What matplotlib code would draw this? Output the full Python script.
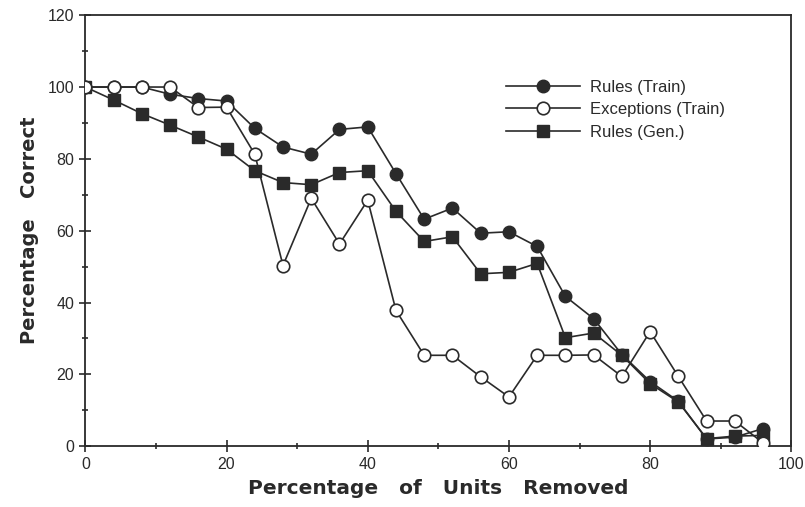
import numpy as np
import matplotlib.pyplot as plt

plt.rcParams['font.family'] = ['Liberation Sans', 'DejaVu Sans']

# percentage of units removed
removed = [0, 4, 8, 12, 16, 20, 24, 28, 32, 36, 40, 44, 48,
           52, 56, 60, 64, 68, 72, 76, 80, 84, 88, 92, 96]

rules_train = [100, 100, 100, 98, 96.8, 96.1, 88.5, 83.3, 81.3, 88.2, 88.9, 75.9, 63.2,
               66.3, 59.3, 59.7, 55.6, 41.7, 35.5, 25.5, 18.0, 12.5, 2.0, 2.5, 4.9]
exceptions_train = [100, 100, 100, 100, 94.3, 94.4, 81.3, 50.3, 69.0, 56.3, 68.5, 37.8, 25.3,
                    25.3, 19.3, 13.7, 25.3, 25.3, 25.4, 19.4, 31.9, 19.4, 7.0, 7.0, 0.9]
rules_gen = [100, 96.4, 92.6, 89.4, 86.1, 82.7, 76.7, 73.4, 72.8, 76.2, 76.7, 65.4, 57.0,
             58.3, 48.0, 48.4, 50.9, 30.2, 31.5, 25.3, 17.4, 12.3, 2.1, 2.8, 3.0]

ink = '#2a2a2a'

fig = plt.figure(figsize=(8.05, 5.07), dpi=100)
ax = fig.add_axes([0.106, 0.120, 0.877, 0.850])

ax.plot(removed, rules_train, color=ink, lw=1.2, marker='o', ms=9,
        mfc=ink, mec=ink, label='Rules (Train)', zorder=3)
ax.plot(removed, exceptions_train, color=ink, lw=1.2, marker='o', ms=9,
        mfc='white', mec=ink, mew=1.2, label='Exceptions (Train)', zorder=4)
ax.plot(removed, rules_gen, color=ink, lw=1.2, marker='s', ms=8.5,
        mfc=ink, mec=ink, label='Rules (Gen.)', zorder=3)

ax.set_xlim(0, 100)
ax.set_ylim(0, 120)
ax.set_xticks(np.arange(0, 101, 20))
ax.set_xticks(np.arange(0, 101, 10), minor=True)
ax.set_yticks(np.arange(0, 121, 20))
ax.set_yticks(np.arange(0, 121, 10), minor=True)
ax.tick_params(which='major', direction='inout', length=8, width=1.2,
               labelsize=11.5, colors=ink, pad=4)
ax.tick_params(which='minor', direction='inout', length=5, width=1.2, colors=ink)
for s in ax.spines.values():
    s.set_linewidth(1.3)
    s.set_color(ink)

ax.set_xlabel('Percentage   of   Units   Removed', fontsize=14.5, fontweight='bold',
              family='DejaVu Sans', color=ink, labelpad=5)
ax.set_ylabel('Percentage   Correct', fontsize=14, fontweight='bold',
              family='DejaVu Sans', color=ink, labelpad=6)

ax.legend(loc='upper left', bbox_to_anchor=(0.575, 0.885), frameon=False,
          fontsize=12, handlelength=4.4, handletextpad=0.6, labelspacing=0.45,
          labelcolor=ink)

fig.savefig('out.png', dpi=100)
